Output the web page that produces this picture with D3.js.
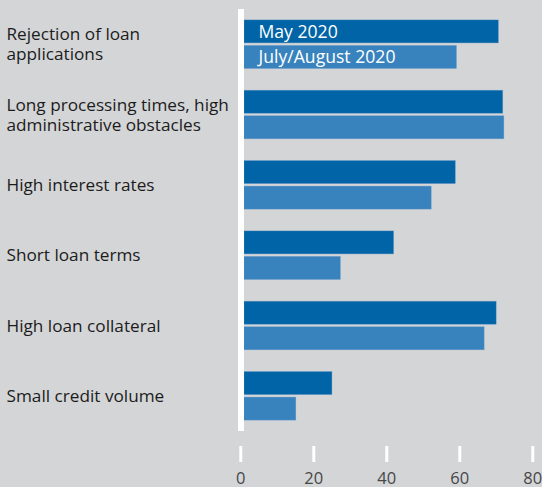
<!DOCTYPE html>
<html><head><meta charset="utf-8">
<script src="https://cdn.jsdelivr.net/npm/d3@7"></script>
<style>
html,body{margin:0;padding:0;background:#d4d5d7;}
svg{display:block;}
</style></head>
<body>
<svg id="chart" width="542" height="487"></svg>
<script>
const categories = [
  ["Rejection of loan", "applications"],
  ["Long processing times, high", "administrative obstacles"],
  ["High interest rates"],
  ["Short loan terms"],
  ["High loan collateral"],
  ["Small credit volume"]
];
const seriesNames = ["May 2020", "July/August 2020"];
const may2020 = [70.7, 71.9, 58.9, 42.0, 70.1, 25.1];
const julyAug2020 = [59.2, 72.2, 52.3, 27.4, 66.8, 15.2];
const tickValues = [0, 20, 40, 60, 80];
const colors = ["#0064a6", "#3883bd"];

const svg = d3.select("#chart");
const W = 542, H = 487;
svg.append("rect").attr("width", W).attr("height", H).attr("fill", "#d4d5d7");

const x = d3.scaleLinear().domain([0, 80]).range([240.3, 532.3]);
const y = d3.scaleBand().domain(d3.range(categories.length)).range([9, 431])
  .paddingInner(0.31).paddingOuter(0.155);
const ys = d3.scaleBand().domain([0, 1]).range([0, y.bandwidth()]).paddingInner(0.1);

const data = categories.map((c, i) => ({i, label: c, vals: [may2020[i], julyAug2020[i]]}));

// bars
const g = svg.append("g");
const groups = g.selectAll("g.grp").data(data).enter().append("g")
  .attr("transform", d => `translate(0,${y(d.i)})`);
groups.selectAll("rect").data(d => d.vals.map((v, k) => ({v, k}))).enter().append("rect")
  .attr("x", x(0) + 3.7)
  .attr("y", d => ys(d.k))
  .attr("width", d => x(d.v) - x(0) - 3.7)
  .attr("height", ys.bandwidth())
  .attr("fill", d => colors[d.k])
  .attr("stroke", "#5b95c6").attr("stroke-width", 0.6).attr("stroke-opacity", 0.6);

// white zero line
svg.append("rect").attr("x", x(0) - 2.3).attr("y", 9).attr("width", 6).attr("height", 422)
  .attr("fill", "#ffffff");

// category labels
const labels = svg.append("g").attr("font-family", "'Open Sans', sans-serif")
  .attr("font-size", 17.2).attr("fill", "#1c1c1c");
data.forEach(d => {
  const cy = y(d.i) + y.bandwidth() / 2;
  const n = d.label.length;
  const lh = 20;
  const t = labels.append("text").attr("x", 6.5);
  d.label.forEach((line, j) => {
    t.append("tspan").attr("x", 6.5)
      .attr("y", cy + (j - (n - 1) / 2) * lh + 6)
      .text(line);
  });
});

// legend inside first group bars
const leg = svg.append("g").attr("font-family", "'Open Sans', sans-serif")
  .attr("font-size", 17.6).attr("fill", "#ffffff");
seriesNames.forEach((s, k) => {
  leg.append("text").attr("x", 258.5)
    .attr("y", y(0) + ys(k) + ys.bandwidth() / 2 + 6.2)
    .text(s);
});

// x axis
const axis = d3.axisBottom(x).tickValues(tickValues).tickSize(0).tickPadding(0);
const ax = svg.append("g").attr("transform", "translate(0,446)").call(axis);
ax.select(".domain").remove();
ax.selectAll(".tick line").remove();
ax.selectAll(".tick").append("rect").attr("x", -1.5).attr("y", 0).attr("width", 3).attr("height", 16)
  .attr("fill", "#ffffff");
ax.selectAll(".tick text").attr("y", 37.5).attr("dy", 0)
  .attr("font-family", "'Open Sans', sans-serif").attr("font-size", 16.5)
  .attr("fill", "#474747");
</script>
</body></html>
